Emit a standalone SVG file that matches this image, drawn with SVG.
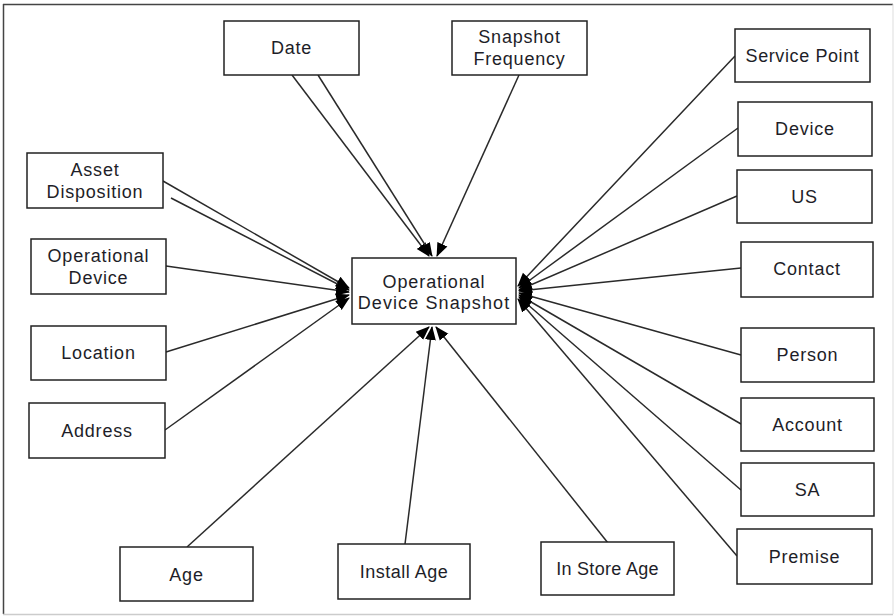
<svg xmlns="http://www.w3.org/2000/svg" width="896" height="616" viewBox="0 0 896 616">
<defs>
<style>
.box{fill:#fff;stroke:#222;stroke-width:1.5}
.t{font-family:"Liberation Sans",Arial,sans-serif;font-size:18px;fill:#1e1e28;text-anchor:middle;letter-spacing:0.8px}
.c{stroke:#2a2a2a;stroke-width:1.5;fill:none;marker-end:url(#ah)}
</style>
<marker id="ah" viewBox="0 0 14 14" refX="13" refY="7" markerWidth="14" markerHeight="14" markerUnits="userSpaceOnUse" orient="auto">
<path d="M0,1.5 L14,7 L0,12.5 z" fill="#000"/>
</marker>
</defs>
<rect width="896" height="616" fill="#fff"/>
<g id="frame">
<line x1="3" y1="4.5" x2="893" y2="4.5" stroke="#444" stroke-width="1.5"/>
<line x1="3.5" y1="4" x2="3.5" y2="614" stroke="#444" stroke-width="1.5"/>
<line x1="3" y1="614.5" x2="893" y2="614.5" stroke="#ccc" stroke-width="1.5"/>
<line x1="893" y1="4" x2="893" y2="614" stroke="#ddd" stroke-width="1"/>
</g>
<g id="connectors">
<line class="c" x1="292" y1="75" x2="429" y2="256"/>
<line class="c" x1="318" y1="75" x2="432" y2="256"/>
<line class="c" x1="519" y1="75" x2="437" y2="256"/>
<line class="c" x1="735" y1="56" x2="518" y2="286"/>
<line class="c" x1="738" y1="128" x2="519" y2="288"/>
<line class="c" x1="737" y1="196" x2="519" y2="290"/>
<line class="c" x1="741" y1="268" x2="519" y2="291"/>
<line class="c" x1="741" y1="355" x2="519" y2="293"/>
<line class="c" x1="741" y1="424" x2="519" y2="295"/>
<line class="c" x1="741" y1="490" x2="519" y2="297"/>
<line class="c" x1="737" y1="556" x2="518" y2="299"/>
<line class="c" x1="163" y1="181" x2="349" y2="288"/>
<line class="c" x1="171" y1="198" x2="349" y2="290"/>
<line class="c" x1="166" y1="266" x2="349" y2="292"/>
<line class="c" x1="166" y1="352" x2="349" y2="295"/>
<line class="c" x1="165" y1="430" x2="349" y2="298"/>
<line class="c" x1="187" y1="547" x2="429" y2="327"/>
<line class="c" x1="405" y1="544" x2="432" y2="327"/>
<line class="c" x1="608" y1="543" x2="436" y2="327"/>
</g>
<g id="center">
<rect class="box" x="352" y="258" width="164" height="66"/>
<text class="t" x="434" y="288" style="letter-spacing:0.9px">Operational</text>
<text class="t" x="434" y="309" style="letter-spacing:1.1px">Device Snapshot</text>
</g>
<g id="date"><rect class="box" x="224" y="21" width="135" height="54"/><text class="t" x="291.5" y="54">Date</text></g>
<g id="snapshotFrequency"><rect class="box" x="452" y="21" width="135" height="54"/><text class="t" x="519.5" y="43">Snapshot</text><text class="t" x="519.5" y="65">Frequency</text></g>
<g id="servicePoint"><rect class="box" x="735" y="29" width="135" height="53"/><text class="t" x="802.5" y="62" style="letter-spacing:0.6px">Service Point</text></g>
<g id="device"><rect class="box" x="738" y="102" width="134" height="54"/><text class="t" x="805" y="135">Device</text></g>
<g id="us"><rect class="box" x="737" y="170" width="135" height="53"/><text class="t" x="804.5" y="203">US</text></g>
<g id="contact"><rect class="box" x="741" y="242" width="132" height="55"/><text class="t" x="807" y="275">Contact</text></g>
<g id="person"><rect class="box" x="741" y="328" width="133" height="54"/><text class="t" x="807.5" y="361">Person</text></g>
<g id="account"><rect class="box" x="741" y="398" width="133" height="53"/><text class="t" x="807.5" y="431">Account</text></g>
<g id="sa"><rect class="box" x="741" y="463" width="133" height="53"/><text class="t" x="807.5" y="496">SA</text></g>
<g id="premise"><rect class="box" x="737" y="529" width="135" height="55"/><text class="t" x="804.5" y="563">Premise</text></g>
<g id="assetDisposition"><rect class="box" x="27" y="153" width="136" height="55"/><text class="t" x="95" y="176">Asset</text><text class="t" x="95" y="198">Disposition</text></g>
<g id="operationalDevice"><rect class="box" x="31" y="239" width="135" height="55"/><text class="t" x="98.5" y="262">Operational</text><text class="t" x="98.5" y="284">Device</text></g>
<g id="location"><rect class="box" x="31" y="326" width="135" height="54"/><text class="t" x="98.5" y="359">Location</text></g>
<g id="address"><rect class="box" x="29" y="403" width="136" height="55"/><text class="t" x="97" y="437">Address</text></g>
<g id="age"><rect class="box" x="120" y="547" width="133" height="54"/><text class="t" x="186.5" y="581">Age</text></g>
<g id="installAge"><rect class="box" x="338" y="544" width="132" height="55"/><text class="t" x="404" y="578" style="letter-spacing:0.5px">Install Age</text></g>
<g id="inStoreAge"><rect class="box" x="541" y="542" width="133" height="53"/><text class="t" x="607.5" y="575" style="letter-spacing:0.3px">In Store Age</text></g>
</svg>
